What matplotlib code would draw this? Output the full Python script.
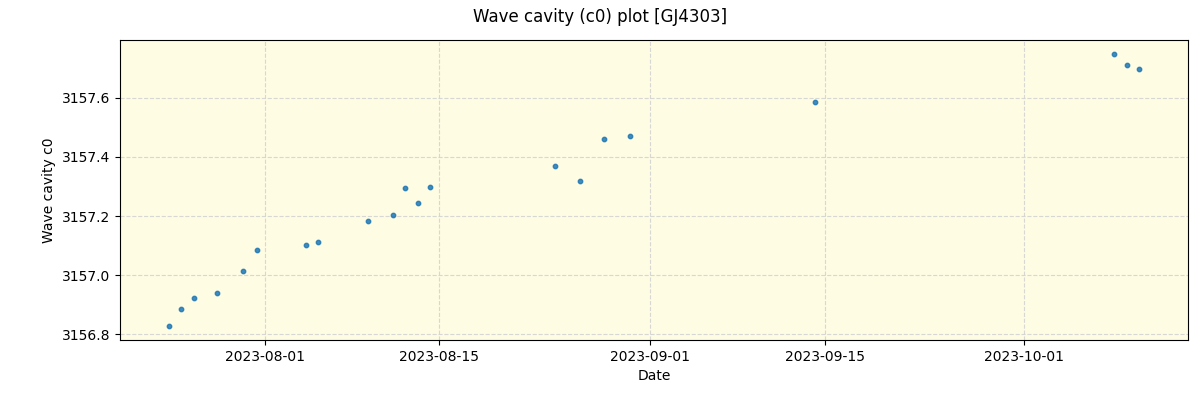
import pandas as pd
import matplotlib
matplotlib.use('Agg')
import matplotlib.pyplot as plt
import matplotlib.dates as mdates

# Wave cavity c0 values
dates = pd.to_datetime([
    '2023-07-24 06:43', '2023-07-25 07:40', '2023-07-26 07:00', '2023-07-28 03:20',
    '2023-07-30 05:30', '2023-07-31 08:40', '2023-08-04 07:10', '2023-08-05 06:15',
    '2023-08-09 07:00', '2023-08-11 07:10', '2023-08-12 06:15', '2023-08-13 07:25',
    '2023-08-14 06:30', '2023-08-24 08:00', '2023-08-26 08:10', '2023-08-28 06:30',
    '2023-08-30 08:40', '2023-09-14 06:00', '2023-10-08 07:10', '2023-10-09 06:30',
    '2023-10-10 07:25',
])
c0 = [3156.827, 3156.885, 3156.922, 3156.939, 3157.014, 3157.085, 3157.102,
      3157.112, 3157.183, 3157.203, 3157.295, 3157.244, 3157.298, 3157.369,
      3157.319, 3157.461, 3157.471, 3157.586, 3157.749, 3157.712, 3157.698]

fig = plt.figure(figsize=(12, 4), dpi=100)
ax = fig.add_axes([0.1, 0.15, 0.89, 0.75])
ax.set_facecolor('#fefce3')
ax.scatter(dates, c0, s=10, color='tab:blue', alpha=0.85, zorder=3)
ax.grid(True, linestyle='--', color='lightgray', alpha=0.9)
ax.xaxis.set_major_locator(mdates.DayLocator(bymonthday=[1, 15]))
ax.xaxis.set_major_formatter(mdates.DateFormatter('%Y-%m-%d'))
ax.set_xlabel('Date')
ax.set_ylabel('Wave cavity c0')
ax.yaxis.set_major_formatter(matplotlib.ticker.FormatStrFormatter('%.1f'))
fig.suptitle('Wave cavity (c0) plot [GJ4303]')
fig.savefig('out.png')
